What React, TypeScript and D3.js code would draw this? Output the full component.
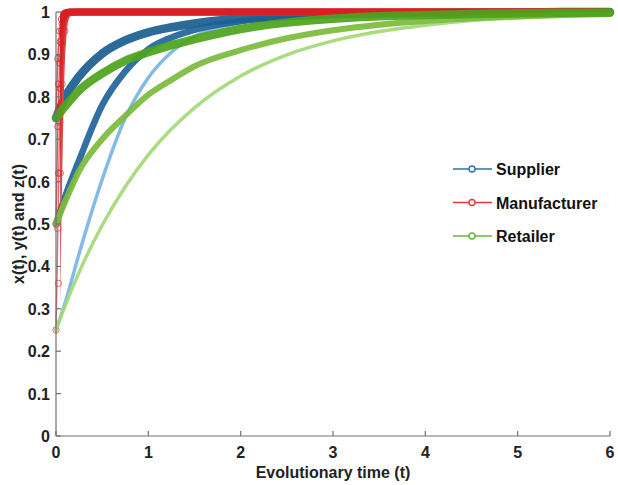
import React from "react";
import * as d3 from "d3";

// time grid used by supplier and retailer runs
const timeGrid = [0, 0.1, 0.25, 0.5, 0.75, 1, 1.25, 1.5, 2, 2.5, 3, 3.5, 4, 4.5, 5, 5.5, 6];
// manufacturer jumps to 1 almost at once, so it needs a finer grid near 0
const manufacturerTime = [0, 0.01, 0.02, 0.03, 0.04, 0.05, 0.06, 0.08, 0.1, 0.15, 0.25, 0.5, 1, 2, 3, 4, 5, 6];

const supplierHigh = [0.75, 0.8, 0.848, 0.902, 0.933, 0.952, 0.964, 0.973, 0.985, 0.991, 0.995, 0.997, 0.998, 0.999, 0.999, 1, 1];
const supplierMid = [0.5, 0.565, 0.65, 0.78, 0.86, 0.912, 0.94, 0.958, 0.978, 0.988, 0.993, 0.996, 0.998, 0.999, 0.999, 1, 1];
const supplierLow = [0.25, 0.315, 0.43, 0.605, 0.75, 0.845, 0.905, 0.942, 0.975, 0.989, 0.995, 0.997, 0.999, 0.999, 1, 1, 1];

const manufacturerHigh = [0.75, 0.83, 0.89, 0.93, 0.955, 0.972, 0.983, 0.994, 0.998, 1, 1, 1, 1, 1, 1, 1, 1, 1];
const manufacturerMid = [0.5, 0.62, 0.73, 0.82, 0.88, 0.925, 0.955, 0.985, 0.995, 1, 1, 1, 1, 1, 1, 1, 1, 1];
const manufacturerLow = [0.25, 0.36, 0.49, 0.62, 0.74, 0.83, 0.89, 0.955, 0.985, 0.998, 1, 1, 1, 1, 1, 1, 1, 1];

const retailerHigh = [0.75, 0.778, 0.815, 0.855, 0.885, 0.905, 0.922, 0.936, 0.96, 0.975, 0.984, 0.99, 0.993, 0.995, 0.997, 0.998, 0.999];
const retailerMid = [0.5, 0.553, 0.625, 0.7, 0.755, 0.805, 0.84, 0.872, 0.91, 0.938, 0.957, 0.97, 0.979, 0.985, 0.99, 0.993, 0.995];
const retailerLow = [0.25, 0.308, 0.386, 0.497, 0.588, 0.663, 0.724, 0.774, 0.849, 0.899, 0.932, 0.954, 0.969, 0.98, 0.986, 0.991, 0.994];

const xTicks = [0, 1, 2, 3, 4, 5, 6];
const yTicks = [0, 0.1, 0.2, 0.3, 0.4, 0.5, 0.6, 0.7, 0.8, 0.9, 1];
const legendLabels = ["Supplier", "Manufacturer", "Retailer"];
const legendColors = ["#2b72ad", "#e03a3e", "#62b832"];

const series = [
  { t: timeGrid, v: supplierLow, color: "#7ab6e3", w: 3.5, red: false },
  { t: timeGrid, v: supplierMid, color: "#22659c", w: 6.5, red: false },
  { t: timeGrid, v: supplierHigh, color: "#1c5f8f", w: 8.5, red: false },
  { t: manufacturerTime, v: manufacturerLow, color: "#e0464a", w: 7, red: true },
  { t: manufacturerTime, v: manufacturerMid, color: "#da2a2e", w: 7, red: true },
  { t: manufacturerTime, v: manufacturerHigh, color: "#d71f24", w: 7, red: true },
  { t: timeGrid, v: retailerLow, color: "#a4d977", w: 3.5, red: false },
  { t: timeGrid, v: retailerMid, color: "#7bbb3c", w: 6, red: false },
  { t: timeGrid, v: retailerHigh, color: "#4fa21d", w: 8.5, red: false },
];

const W = 618;
const H = 485;
const font = "'Liberation Sans', Arial, sans-serif";

export default function App() {
  const x = d3.scaleLinear().domain([0, 6]).range([56, 610]);
  const y = d3.scaleLinear().domain([0, 1]).range([436, 12]);

  const lineGen = d3
    .line<[number, number]>()
    .x((d) => x(d[0]))
    .y((d) => y(d[1]))
    .curve(d3.curveMonotoneX);

  return (
    <svg width={W} height={H} style={{ position: "absolute", left: 0, top: 0, background: "#fff" }}>
      <defs>
        {/* the dense marker band of the manufacturer runs only shows once they level off */}
        <clipPath id="flatPart">
          <rect x={x(0.045)} y={0} width={W} height={H} />
        </clipPath>
      </defs>

      {/* curves */}
      {series.map((s, i) => {
        const pts = s.t.map((t, j) => [t, s.v[j]] as [number, number]);
        const d = lineGen(pts) || "";
        if (!s.red) {
          return (
            <path key={i} d={d} fill="none" stroke={s.color} strokeWidth={s.w} strokeLinecap="round" strokeLinejoin="round" opacity={0.93} />
          );
        }
        return (
          <g key={i}>
            <path d={d} fill="none" stroke={s.color} strokeWidth={1.4} opacity={0.8} />
            <path d={d} fill="none" stroke={s.color} strokeWidth={s.w} clipPath="url(#flatPart)" />
            {pts
              .filter((p) => p[0] < 0.1)
              .map((p, j) => (
                <circle key={j} cx={x(p[0]) + (j % 2) * 1.5} cy={y(p[1])} r={3.2} fill="none" stroke={s.color} strokeWidth={1} opacity={0.8} />
              ))}
          </g>
        );
      })}

      {/* axes */}
      <g stroke="#707070" strokeWidth={1.2} fill="none">
        <line x1={x(0)} x2={x(6)} y1={y(0)} y2={y(0)} />
        <line x1={x(0)} x2={x(0)} y1={y(0)} y2={y(1)} />
        {xTicks.map((t) => (
          <line key={t} x1={x(t)} x2={x(t)} y1={y(0)} y2={y(0) - 5} />
        ))}
        {yTicks.map((t) => (
          <line key={t} x1={x(0)} x2={x(0) + 5} y1={y(t)} y2={y(t)} />
        ))}
      </g>

      <g fontFamily={font} fontWeight="bold" fontSize={16} fill="#222">
        {xTicks.map((t) => (
          <text key={t} x={x(t)} y={458} textAnchor="middle">
            {t}
          </text>
        ))}
        {yTicks.map((t) => (
          <text key={t} x={50} y={y(t) + 6} textAnchor="end">
            {t}
          </text>
        ))}
        <text x={(x(0) + x(6)) / 2} y={478} textAnchor="middle">
          Evolutionary time (t)
        </text>
        <text transform={`translate(24,${y(0.5)}) rotate(-90)`} textAnchor="middle">
          x(t), y(t) and z(t)
        </text>
      </g>

      {/* legend */}
      <g fontFamily={font} fontWeight="bold" fontSize={16} fill="#111">
        {legendLabels.map((name, i) => {
          const ly = 169 + i * 33.5;
          return (
            <g key={name}>
              <line x1={453} x2={492} y1={ly} y2={ly} stroke={legendColors[i]} strokeWidth={1.6} />
              <circle cx={472} cy={ly} r={3} fill="#fff" stroke={legendColors[i]} strokeWidth={1.4} />
              <text x={496} y={ly + 6}>
                {name}
              </text>
            </g>
          );
        })}
      </g>
    </svg>
  );
}
